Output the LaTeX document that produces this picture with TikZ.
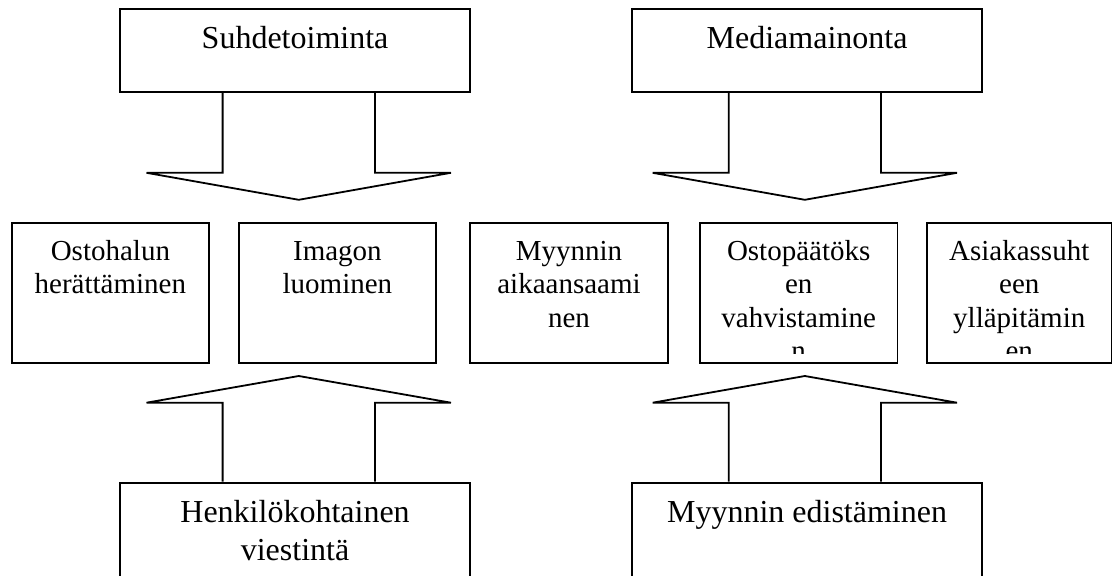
\documentclass[tikz,border=0pt]{standalone}
\usepackage{fontspec}
\setmainfont{Liberation Serif}
\usetikzlibrary{calc}
\newcommand{\txtlines}[1]{\begin{tabular}[t]{@{}c@{}}#1\end{tabular}}
\tikzset{
  frame/.style={draw, line width=1.8pt, inner sep=0pt, anchor=north west},
  bigbox/.style={frame, minimum width=350.3pt, minimum height=82.7pt},
  lowbox/.style={frame, minimum width=350.3pt, minimum height=130pt},
  midbox/.style={frame, minimum width=197.6pt, minimum height=140pt},
  bigtxt/.style={anchor=base, inner sep=0pt, font=\fontsize{32}{37.7}\selectfont},
  midtxt/.style={anchor=base, inner sep=0pt, font=\fontsize{29}{33.5}\selectfont},
  barrow/.style={draw, line width=1.8pt, line join=miter},
  downarr/.pic={\path[barrow] (-76.15,0) -- (-76.15,80) -- (-152.2,80) -- (0,107) -- (152.2,80) -- (76.15,80) -- (76.15,0);},
  uparr/.pic={\path[barrow] (-76.15,0) -- (-76.15,-79) -- (-152.2,-79) -- (0,-105.7) -- (152.2,-79) -- (76.15,-79) -- (76.15,0);}
}
\begin{document}
\begin{tikzpicture}[x=1pt, y=-1pt]
\useasboundingbox (0,0) rectangle (1112,576);
\fill[white] (0,0) rectangle (1112,576);
\clip (0,0) rectangle (1112,576);

% top boxes
\node[bigbox] (suhde) at (119,8.3) {};
\node[bigtxt] (suhdet) at ($(suhde.north)+(0,39.7)$) {Suhdetoiminta};
\node[bigbox] (media) at (631,8.3) {};
\node[bigtxt] (mediat) at ($(media.north)+(0,39.7)$) {Mediamainonta};

% down arrows
\pic at ($(suhde.south)+(3.7,0)$) {downarr};
\pic at ($(media.south)+(-2.2,0)$) {downarr};

% middle boxes
\node[midbox] (b1) at (10.7,222.3) {};
\node[midtxt] (t1) at ($(b1.north)+(0,37.7)$) {\txtlines{Ostohalun\\herättäminen}};
\node[midbox] (b2) at (237.7,222.3) {};
\node[midtxt] (t2) at ($(b2.north)+(0,37.7)$) {\txtlines{Imagon\\luominen}};
\node[midbox] (b3) at (469.3,222.3) {};
\node[midtxt] (t3) at ($(b3.north)+(0,37.7)$) {\txtlines{Myynnin\\aikaansaami\\nen}};
\node[midbox] (b4) at (699,222.3) {};
\begin{scope}
  \clip (b4.north west) rectangle ($(b4.south east)+(0,-10.5)$);
  \node[midtxt] (t4) at ($(b4.north)+(0,37.7)$) {\txtlines{Ostopäätöks\\en\\vahvistamine\\n}};
\end{scope}
\node[midbox, minimum width=185.3pt] (b5) at (925.7,222.3) {};
\begin{scope}
  \clip (b5.north west) rectangle ($(b5.south east)+(0,-10.5)$);
  \node[midtxt] (t5) at ($(b5.north)+(0,37.7)$) {\txtlines{Asiakassuht\\een\\ylläpitämin\\en}};
\end{scope}

% bottom boxes
\node[lowbox] (henk) at (119,481.7) {};
\node[bigtxt] (henkt) at ($(henk.north)+(0,40.8)$) {\txtlines{Henkilökohtainen\\viestintä}};
\node[lowbox] (myyn) at (631,481.7) {};
\node[bigtxt] (myynt) at ($(myyn.north)+(0,41.2)$) {Myynnin edistäminen};

% up arrows
\pic at ($(henk.north)+(3.7,0)$) {uparr};
\pic at ($(myyn.north)+(-2.2,0)$) {uparr};
\end{tikzpicture}
\end{document}
